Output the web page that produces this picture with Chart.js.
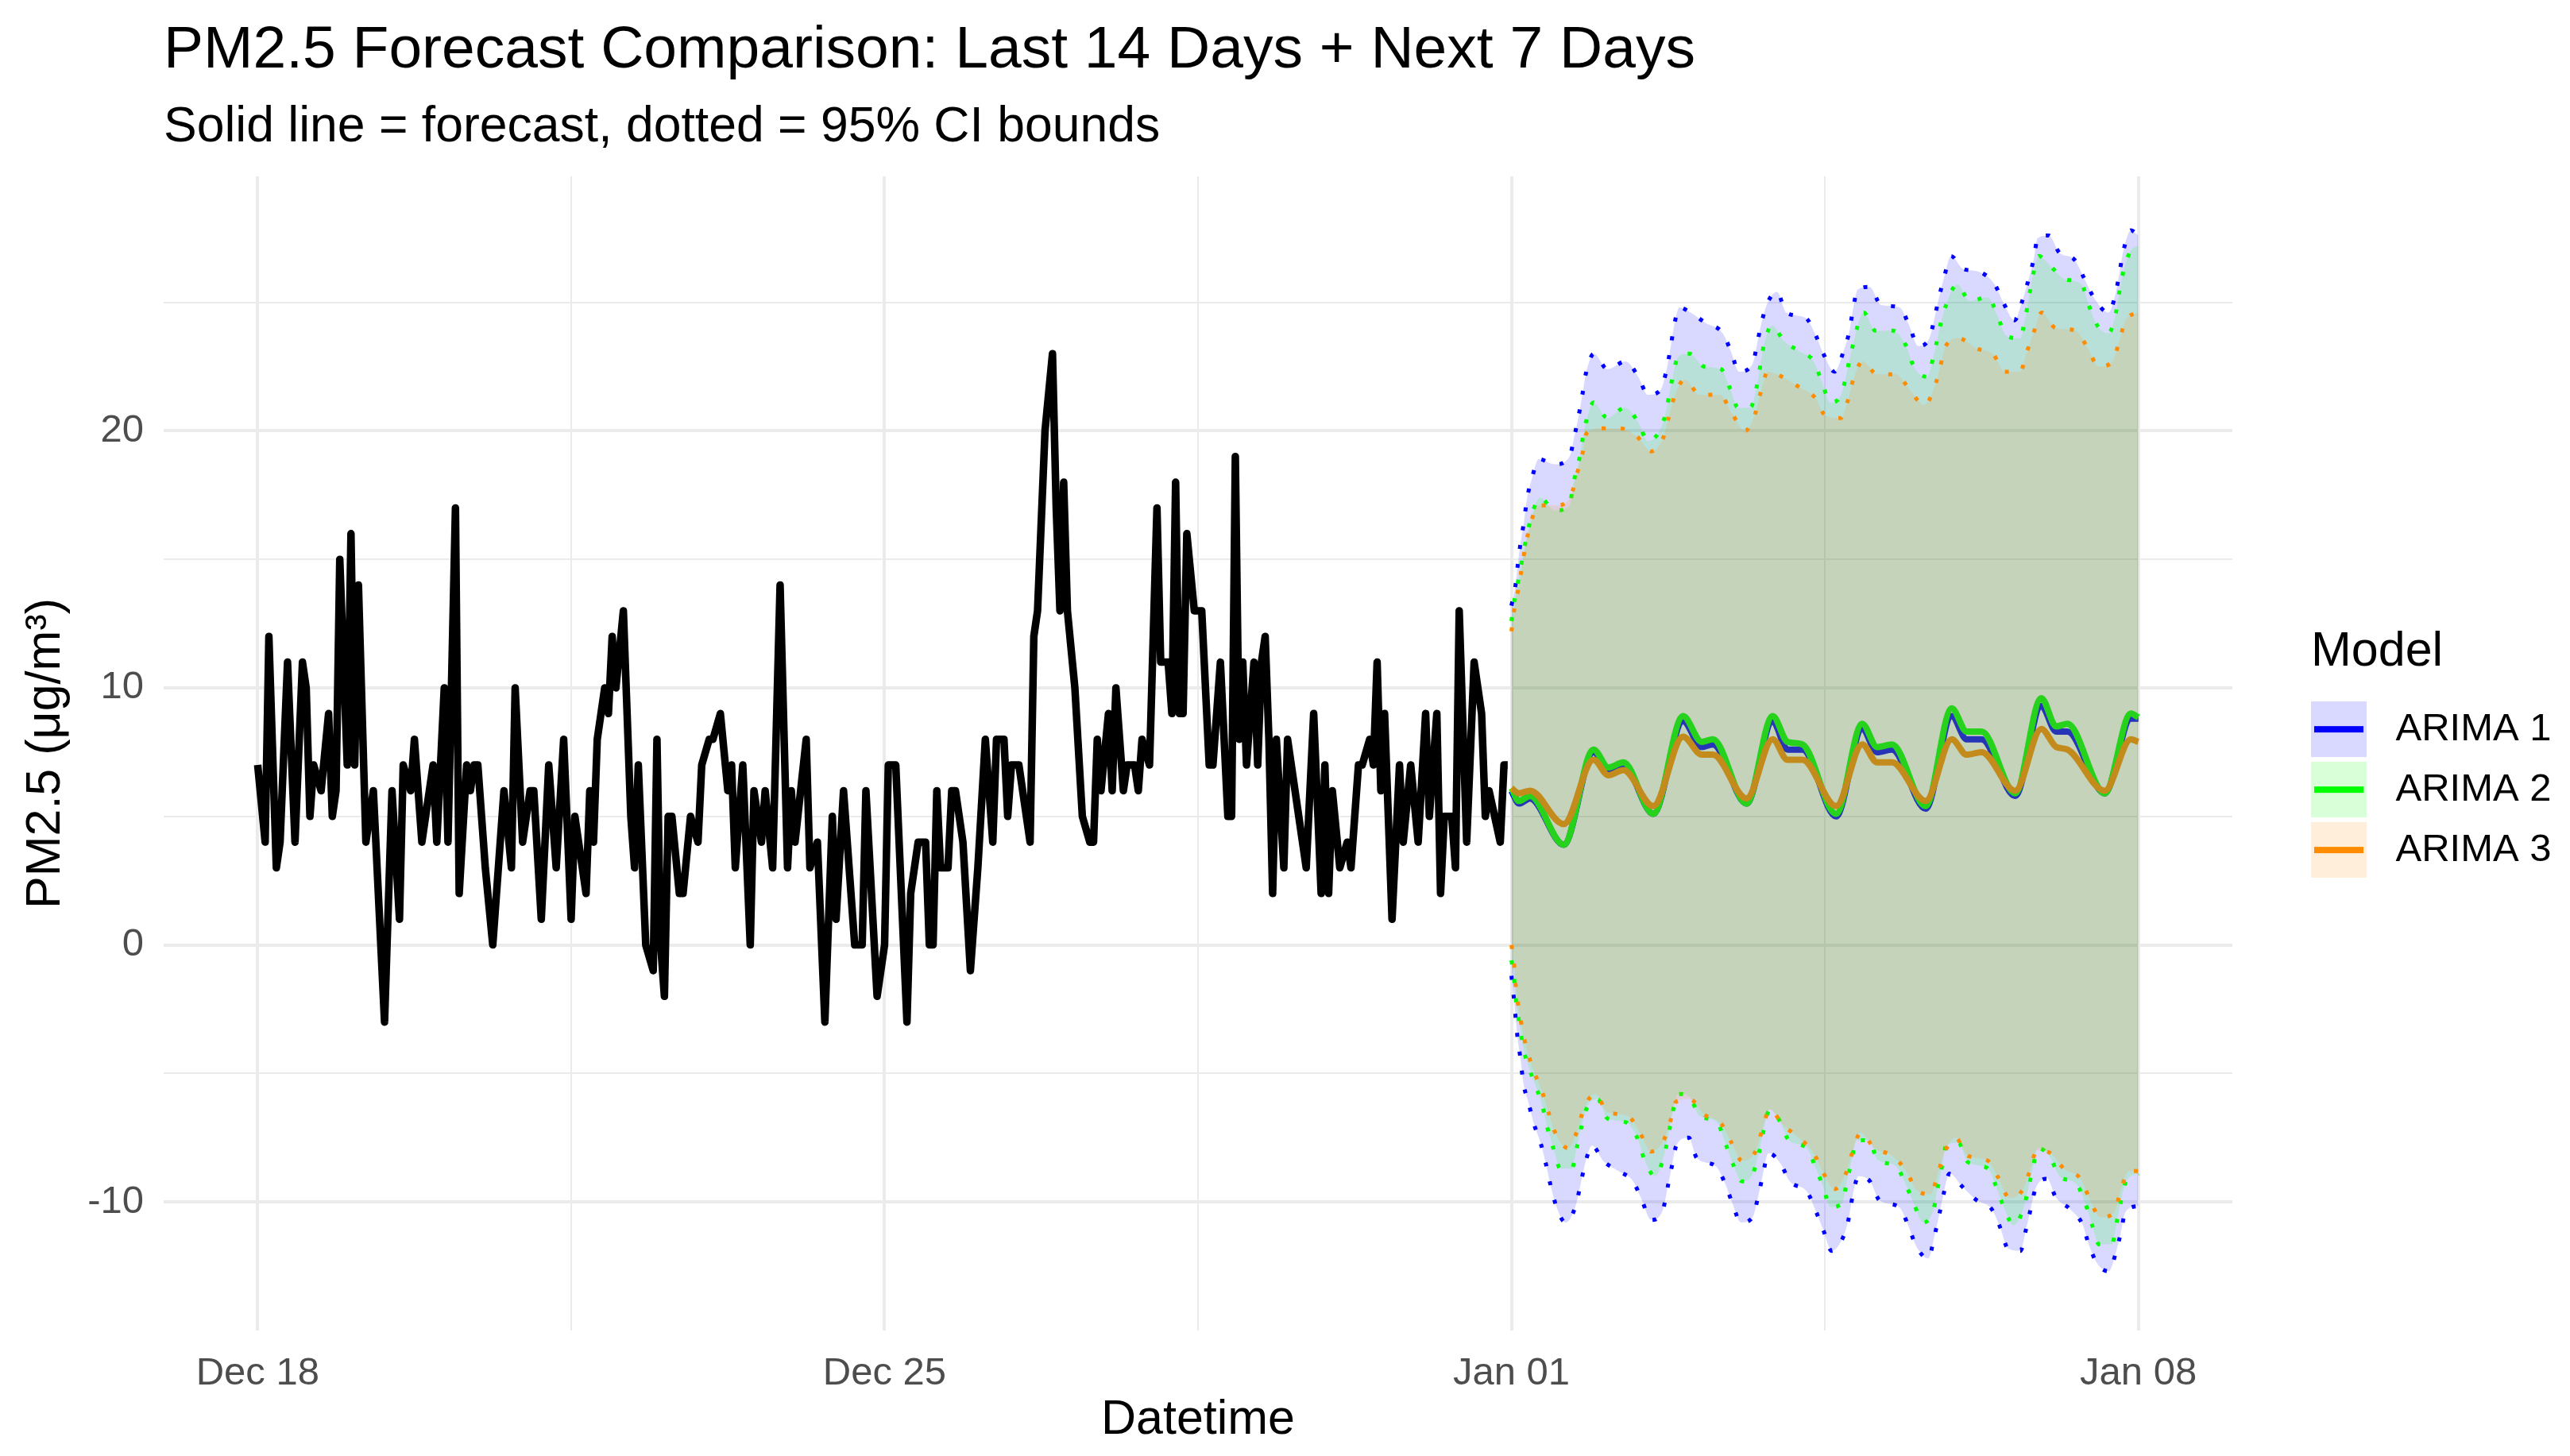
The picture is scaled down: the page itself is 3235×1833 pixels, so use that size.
<!DOCTYPE html>
<html>
<head>
<meta charset="utf-8">
<title>PM2.5 Forecast Comparison</title>
<script src="https://cdn.jsdelivr.net/npm/chart.js@4.4.1/dist/chart.umd.min.js"></script>
<style>
  html, body { margin: 0; padding: 0; background: #fff; }
  canvas { display: block; }
</style>
</head>
<body>
<canvas id="chart" width="3235" height="1833"></canvas>
<script>
// x values are hours since Dec 18 00:00; forecasts are hours since Jan 01 00:00
const forecastStart = 336;

const obsHours = [0,2,3,5,6,8,10,12,13,14,15,17,19,20,21,22,24,25,26,27,29,31,34,36,38,39,41,42,44,47,48,50,51,53,54,56,57,58,59,61,63,66,68,69,71,73,74,76,78,80,82,84,
  85,86,88,89,90,91,92,93,94,95,96,98,100,101,102,104,106,107,108,109,110,111,113,114,116,118,119,121,122,124,126,127,128,130,132,133,135,136,138,140,142,143,144,147,148,150,152,154,155,157,160,162,163,166,167,
  168,169,171,174,175,177,179,180,181,182,183,185,186,187,189,191,193,195,197,198,200,201,202,204,205,207,208,209,211,213,214,215,216,217,219,221,223,224,225,226,228,229,230,232,233,235,236,237,239,241,242,244,245,246,247,248,249,251,
  252,253,255,256,258,260,261,262,263,264,265,267,268,269,270,271,272,273,275,276,278,279,281,283,285,286,287,288,290,292,293,295,296,298,299,300,301,302,304,306,307,309,311,313,314,316,317,318,320,321,322,324,326,328,329,330,333,334,335];
const obsValues = [7,4,12,3,4,11,4,11,10,5,7,6,9,5,6,15,7,16,7,14,4,6,-3,6,1,7,6,8,4,7,4,10,4,17,2,7,6,7,7,3,0,6,3,10,4,6,6,1,7,3,8,1,
  5,4,2,6,4,8,9,10,9,12,10,13,5,3,7,0,-1,8,0,-2,5,5,2,2,5,4,7,8,8,9,6,7,3,7,0,6,4,6,3,14,3,6,4,8,3,4,-3,5,1,6,0,0,6,-2,-1,
  0,7,7,-3,2,4,4,0,0,6,3,3,6,6,4,-1,3,8,4,8,8,5,7,7,6,4,12,13,20,23,17,13,18,13,10,5,4,4,8,6,9,6,10,6,7,7,6,8,7,17,11,11,9,18,9,9,16,13,
  13,13,7,7,11,5,5,19,8,11,7,11,7,11,12,8,2,8,3,8,6,5,3,9,2,7,2,6,3,4,3,7,7,8,7,11,6,9,1,7,4,7,4,9,5,9,2,5,5,3,13,4,11,9,5,6,4,7,7];

const modelNames = ['ARIMA 1', 'ARIMA 2', 'ARIMA 3'];
const modelColors = ['#0000FF', '#00FF00', '#FF8C00'];
const ribbonColors = ['rgba(0,0,255,0.15)', 'rgba(0,255,0,0.15)', 'rgba(255,140,0,0.15)'];

const meanHours = [0,2,5,14,22,26,30,38,46,51,54,63,70,74,78,87,94,98,102,111,118,122,126,135,142,146,149,159,166,168];
const arima1Mean = [6.0,5.5,5.7,3.9,7.5,6.8,7.0,5.1,8.7,7.7,7.8,5.5,8.7,7.6,7.6,5.0,8.4,7.5,7.6,5.3,8.9,8.0,8.0,5.8,9.3,8.3,8.3,5.9,8.8,8.8];
const arima2Mean = [6.1,5.6,5.8,3.9,7.6,6.9,7.1,5.1,8.9,7.9,8.0,5.5,8.9,7.9,7.8,5.1,8.6,7.7,7.8,5.4,9.2,8.3,8.3,5.9,9.6,8.5,8.6,5.9,9.0,8.85];
const arima3Mean = [6.1,5.9,6.0,4.7,7.2,6.6,6.8,5.4,8.1,7.4,7.4,5.7,8.0,7.2,7.2,5.4,7.8,7.1,7.1,5.6,8.0,7.4,7.5,6.0,8.4,7.7,7.6,6.0,8.0,7.9];

const arima1UpperHours = [0,1.1,1.7,2.5,3.4,4.1,5.4,7.3,11.7,15.6,16.8,17.9,19,19.9,22.1,25.7,30.6,34,36.6,40,41.6,42.6,43.6,45,48,52,56.6,58.8,61,64.6,66,67,68.7,71.2,73.6,78.8,81.6,83.6,86.6,89,90.6,91.5,92.8,96,99,104,106.6,109,112,113.4,114.6,116,117.8,121,125,129.5,131.8,134.8,137,138.6,140,141,144,147,150.6,153.6,156,160,162,163,164,166,168];
const arima1Upper = [13.2,14,14.8,15.7,16.5,17.3,18.1,18.9,18.7,19,19.75,20.5,21.4,22.2,23,22.4,22.7,22.1,21.4,21.6,22.4,23.2,24.1,24.8,24.6,24.2,23.8,23.1,22.3,22.6,23.5,24.2,25,25.4,24.6,24.4,23.7,23,22.3,23.1,23.9,24.7,25.5,25.6,24.9,24.8,24.1,23.3,23.6,24.4,25.2,26,26.8,26.3,26.2,25.7,25,24.3,25.1,25.9,26.7,27.5,27.6,26.9,26.7,25.9,25.2,24.6,25.4,26.2,27,27.8,27.6];
const arima2UpperHours = [0,0.9,2,3,4.1,5.4,7.6,11.7,15.6,16.5,17.9,19.9,22,25.7,30.4,34.1,36.5,41,43.2,44.7,47.7,51.6,56.2,58.7,60.7,64,65.7,67.6,69.8,73,77.1,81,83.2,85.5,88.6,89.9,91.1,94.4,97.5,102.2,105.8,107.8,111.4,113.1,115.6,119.6,122.7,127.7,130.2,132.6,136.3,137.7,139.7,141.3,144.5,148.3,152.8,154.7,157,160,162,162.9,164,165.9,168];
const arima2Upper = [12.6,13.5,14.3,15.1,15.9,16.7,17.4,16.9,17.1,17.9,18.7,20.3,21.1,20.5,20.9,20.3,19.6,20.5,22.1,22.9,23,22.5,22.4,21.6,20.9,20.9,21.7,23.3,24.1,23.5,23.1,22.7,21.9,21.1,21.5,22.3,23.1,24.6,23.9,23.9,23.3,22.5,22.1,22.9,24.5,25.7,25.05,25.2,24.5,23.7,23.6,24.4,26,26.8,26.4,25.9,25.7,24.9,24.1,23.8,24.6,25.4,26.2,27,27.2];
const arima3UpperHours = [0,0.8,1.9,2.8,3.7,5,7,12.1,16,17.5,19,20.1,24,29,33.5,37.4,40.6,42.1,43.6,46.4,50.5,55.9,59,62.6,65.4,66.8,68.7,72.6,77.1,81.3,84.1,88.3,90.2,91.6,94.1,98,103.1,106.7,110.6,113.4,114.9,116.4,119.9,124.6,129,132.2,136.3,138.2,139.9,142.1,145.8,151.2,154.5,157.3,161.1,162.9,164.6,168];
const arima3Upper = [12.2,13.1,13.9,14.7,15.5,16.3,17.1,17.1,17.5,18.3,19.1,19.9,20.1,20.1,19.8,19.2,19.7,20.5,21.3,22,21.4,21.4,20.7,20,20.7,21.5,22.3,22.1,21.7,21.3,20.6,20.5,21.2,22,22.7,22.2,22.2,21.6,21,21.7,22.5,23.3,23.6,23.2,23,22.3,22.3,23.1,23.8,24.6,24,23.9,23.2,22.5,22.7,23.5,24.3,24.6];

const arima1LowerHours = [0,0.6,1.1,1.7,2.5,3.1,4.5,6.1,7.8,9.2,10.4,12.1,14.5,17.1,18.4,19.6,21.6,24.6,28.7,32.6,35,37.4,40.6,41.9,43,44.2,47.5,49.7,54.7,57.3,59.2,61.5,64.6,66.1,67.3,68.9,72.1,74.6,79.2,81.7,83.6,85.8,88.8,90.3,91.4,93,96.1,98.7,103.9,106.3,108.4,111.7,113.4,114.5,115.8,117.4,120.8,124.4,128.8,131,133,136.4,138,139.1,140.4,143.6,145.8,149.9,153.1,154.7,157,160.1,162,163.3,164.5,168];
const arima1Lower = [-1.2,-2,-2.8,-3.7,-4.5,-5.3,-6.1,-7,-7.7,-8.5,-9.3,-10.2,-10.8,-10.2,-9.4,-8.6,-7.8,-8.4,-8.8,-9.2,-9.95,-10.7,-10.3,-9.4,-8.6,-7.8,-7.5,-8.3,-8.6,-9.3,-10.05,-10.8,-10.6,-9.8,-9,-8.1,-8.5,-9.2,-9.6,-10.4,-11.1,-11.9,-11.4,-10.7,-9.8,-9,-9.2,-9.95,-10.2,-10.9,-11.7,-12.2,-11.3,-10.6,-9.7,-8.9,-9.4,-9.9,-10.3,-11,-11.8,-11.9,-11,-10.3,-9.5,-9.1,-9.8,-10.3,-10.9,-11.65,-12.4,-12.7,-11.96,-11.2,-10.4,-10.15];
const arima2LowerHours = [0,0.8,1.3,2.2,3,4.5,6.5,8.2,9.6,11.2,13.1,16.2,17.5,18.7,20.3,23.1,25.7,30.7,33.7,35.5,38.5,40.8,42.1,43,44.7,47.7,50.4,55.1,57.3,59.3,61.8,64.7,66.3,69.3,72.1,74.3,79.1,81.6,83.5,85.5,88.6,89.9,91.1,92.4,95.9,98,103,105.6,107.8,110.3,113.1,114.3,115.4,116.5,119.8,122.3,127.7,129.9,131.8,134.6,137.1,138.5,139.7,141.1,144.3,146.9,151.4,153.9,155.6,157.5,160.9,162.2,163.3,164.7,168];
const arima2Lower = [-0.6,-1.4,-2.3,-3.1,-3.9,-4.7,-5.5,-6.2,-7.1,-7.9,-8.7,-8.7,-7.9,-7.1,-6.3,-6.0,-6.75,-6.9,-7.5,-8.3,-9,-8.25,-7.4,-6.65,-5.8,-5.9,-6.65,-6.9,-7.7,-8.5,-9.2,-8.9,-8.1,-6.4,-6.9,-7.6,-7.9,-8.7,-9.4,-10.2,-10.05,-9.2,-8.45,-7.6,-7.6,-8.35,-8.6,-9.3,-10.05,-10.8,-10.3,-9.4,-8.6,-7.8,-7.7,-8.45,-8.7,-9.4,-10.15,-10.9,-10.3,-9.5,-8.7,-7.9,-8.25,-9,-9.3,-10.1,-10.9,-11.65,-11.65,-10.8,-10,-9.2,-8.9];
const arima3LowerHours = [0,0.8,1.2,2,3,4.2,6.1,8.2,9.9,11.7,15.1,17.7,19.3,22.5,25.7,31.2,34.4,37.4,40.8,42.5,44.1,47.8,51.7,56.2,59,61.8,65.4,67,69.2,72.7,77,81,83.2,86.6,89.6,91.3,93.6,97.2,102,105.8,108.4,112.3,114.3,116,119,122.3,127.7,130.5,133.5,137.1,138.9,140.8,144.5,148,152.5,155,157.8,161.5,163.2,165.4,168];
const arima3Lower = [0,-0.9,-1.7,-2.5,-3.35,-4.1,-4.95,-5.7,-6.5,-7.3,-7.9,-7.2,-6.4,-5.8,-6.5,-6.65,-7.3,-8.04,-7.6,-6.9,-6.1,-6,-6.6,-6.95,-7.7,-8.4,-8.04,-7.3,-6.4,-7,-7.5,-8.1,-8.76,-9.5,-8.9,-8.1,-7.3,-7.9,-8.2,-8.8,-9.5,-9.7,-8.9,-8.1,-7.5,-8.2,-8.4,-9.07,-9.85,-9.5,-8.8,-8,-8.1,-8.7,-9.1,-9.9,-10.6,-10.4,-9.6,-8.8,-8.8];

const xTickHours = [0, 84, 168, 252, 336, 420, 504];
const xTickLabels = ['Dec 18', '', 'Dec 25', '', 'Jan 01', '', 'Jan 08'];
const yTickValues = [-10, -5, 0, 5, 10, 15, 20, 25];
const yTickLabels = ['-10', '', '0', '', '10', '', '20', ''];

const FONT = "'Liberation Sans', Arial, Helvetica, sans-serif";
Chart.defaults.font.family = FONT;

const toPoints = (hours, values, offset = 0) => hours.map((h, i) => ({ x: h + offset, y: values[i] }));

function legendKey(fill, line) {
  const c = document.createElement('canvas');
  c.width = 82;
  c.height = 70;
  const g = c.getContext('2d');
  g.fillStyle = fill;
  g.fillRect(0, 0, 70, 70);
  g.fillStyle = line;
  g.fillRect(4, 31, 62, 8);
  return c;
}

const means = [arima1Mean, arima2Mean, arima3Mean];
const uppers = [[arima1UpperHours, arima1Upper], [arima2UpperHours, arima2Upper], [arima3UpperHours, arima3Upper]];
const lowers = [[arima1LowerHours, arima1Lower], [arima2LowerHours, arima2Lower], [arima3LowerHours, arima3Lower]];

// higher "order" is drawn earlier: means first, then ribbons (ARIMA 1 -> 3), observed on top
const datasets = [{
  label: 'Observed',
  data: toPoints(obsHours, obsValues),
  borderColor: '#000000',
  borderWidth: 9.5,
  borderJoinStyle: 'round',
  pointRadius: 0,
  fill: false,
  order: 0
}];

means.forEach((m, i) => {
  datasets.push({
    label: modelNames[i],
    data: toPoints(meanHours, m, forecastStart),
    borderColor: modelColors[i],
    borderWidth: 8,
    cubicInterpolationMode: 'monotone',
    pointRadius: 0,
    fill: false,
    order: 9 - i
  });
});

modelNames.forEach((name, i) => {
  const upperIndex = datasets.length;
  datasets.push({
    label: name + ' upper',
    data: toPoints(uppers[i][0], uppers[i][1], forecastStart),
    borderColor: modelColors[i],
    borderWidth: 5,
    borderDash: [5, 19],
    cubicInterpolationMode: 'monotone',
    pointRadius: 0,
    fill: false,
    order: 5.5 - i
  });
  datasets.push({
    label: name + ' lower',
    data: toPoints(lowers[i][0], lowers[i][1], forecastStart),
    borderColor: modelColors[i],
    borderWidth: 5,
    borderDash: [5, 19],
    cubicInterpolationMode: 'monotone',
    pointRadius: 0,
    backgroundColor: ribbonColors[i],
    fill: { target: upperIndex, above: ribbonColors[i], below: ribbonColors[i] },
    order: 5.6 - i
  });
});

new Chart(document.getElementById('chart'), {
  type: 'line',
  data: { datasets },
  options: {
    responsive: false,
    devicePixelRatio: 1,
    animation: false,
    events: [],
    layout: { padding: { left: 0, right: 21, top: 0, bottom: 0 } },
    scales: {
      x: {
        type: 'linear',
        min: -25.2,
        max: 529.2,
        afterBuildTicks: s => { s.ticks = xTickHours.map(v => ({ value: v })); },
        afterFit: s => { s.height = 158; },
        grid: {
          color: '#EBEBEB',
          lineWidth: c => (c.tick && c.tick.value % 168 === 0) ? 4 : 2,
          drawTicks: false
        },
        border: { display: false },
        ticks: {
          autoSkip: false,
          maxRotation: 0,
          padding: 25,
          color: '#4D4D4D',
          font: { size: 49 },
          callback: v => xTickLabels[xTickHours.indexOf(v)]
        },
        title: { display: true, text: 'Datetime', color: '#000', font: { size: 61 }, padding: { bottom: 8 } }
      },
      y: {
        min: -15,
        max: 29.9,
        afterBuildTicks: s => { s.ticks = yTickValues.map(v => ({ value: v })); },
        afterFit: s => { s.width = 206; },
        grid: {
          color: '#EBEBEB',
          lineWidth: c => (c.tick && c.tick.value % 10 === 0) ? 4 : 2,
          drawTicks: false
        },
        border: { display: false },
        ticks: {
          padding: 25,
          color: '#4D4D4D',
          font: { size: 49 },
          callback: v => yTickLabels[yTickValues.indexOf(v)]
        },
        title: { display: true, text: 'PM2.5 (μg/m³)', color: '#000', font: { size: 61 }, padding: { top: 22 } }
      },
      // empty right-hand axis, only used as the gap between panel and legend
      gap: {
        position: 'right',
        min: -15,
        max: 29.9,
        grid: { display: false, drawTicks: false },
        border: { display: false },
        ticks: { display: false },
        afterFit: s => { s.width = 99; }
      }
    },
    plugins: {
      title: {
        display: true,
        text: 'PM2.5 Forecast Comparison: Last 14 Days + Next 7 Days',
        align: 'start',
        fullSize: false,
        color: '#000',
        font: { size: 75, weight: 'normal' },
        padding: { top: 19.4, bottom: 14.1 }
      },
      subtitle: {
        display: true,
        text: 'Solid line = forecast, dotted = 95% CI bounds',
        align: 'start',
        fullSize: false,
        color: '#000',
        font: { size: 62.5, weight: 'normal' },
        padding: { top: 0, bottom: 23.5 }
      },
      legend: {
        display: true,
        position: 'right',
        align: 'center',
        maxWidth: 305,
        title: {
          display: true,
          text: 'Model',
          color: '#000',
          position: 'start',
          font: { size: 61 },
          padding: { top: 79, bottom: 30 }
        },
        labels: {
          usePointStyle: true,
          pointStyleWidth: 82,
          padding: 0,
          color: '#000',
          font: { size: 49, lineHeight: 76 / 49 },
          generateLabels: () => modelNames.map((name, i) => ({
            text: [name],
            pointStyle: legendKey(ribbonColors[i], modelColors[i]),
            fillStyle: ribbonColors[i],
            strokeStyle: modelColors[i],
            lineWidth: 0,
            hidden: false,
            datasetIndex: 1 + i
          }))
        }
      },
      tooltip: { enabled: false }
    }
  }
});
</script>
</body>
</html>
